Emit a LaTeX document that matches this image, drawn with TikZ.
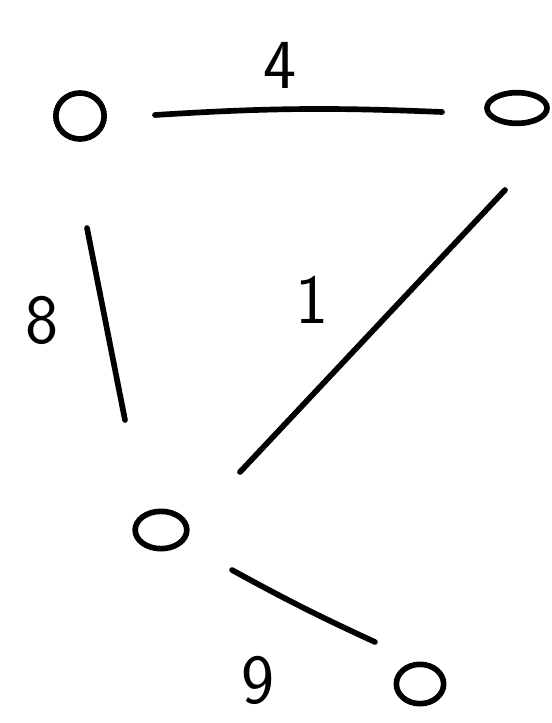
\documentclass[tikz,border=0pt]{standalone}
\usetikzlibrary{shapes.geometric}
\begin{document}
\begin{tikzpicture}[x=0.03cm,y=-0.03cm,line width=0.17cm,line cap=round,line join=round]
\tikzset{vert/.style={draw,ellipse,inner sep=0pt},
  wlabel/.style={font=\fontsize{60}{60}\selectfont\sffamily,inner sep=0pt}}
\useasboundingbox (0,0) rectangle (551,723);
% vertices
\node[vert,minimum width=1.45cm,minimum height=1.38cm] (v1) at (80,116) {};
\node[vert,minimum width=1.8cm,minimum height=0.92cm] (v2) at (517,108) {};
\node[vert,minimum width=1.55cm,minimum height=1.12cm] (v3) at (161,530) {};
\node[vert,minimum width=1.42cm,minimum height=1.18cm] (v4) at (420,684) {};
% edges
\draw ([shift={(75,-1)}]v1.center) to[bend left=3] ([shift={(-75,4)}]v2.center);
\draw ([shift={(7,112)}]v1.center) -- ([shift={(-36,-110)}]v3.center);
\draw ([shift={(-12,82)}]v2.center) -- ([shift={(79,-58)}]v3.center);
\draw ([shift={(71,40)}]v3.center) to[bend right=2] ([shift={(-45,-42)}]v4.center);
% weights
\node[wlabel] (w12) at (280,65) {4};
\node[wlabel] (w13) at (42,320) {8};
\node[wlabel] (w23) at (312,300) {1};
\node[wlabel] (w34) at (258,680) {9};
\end{tikzpicture}
\end{document}
